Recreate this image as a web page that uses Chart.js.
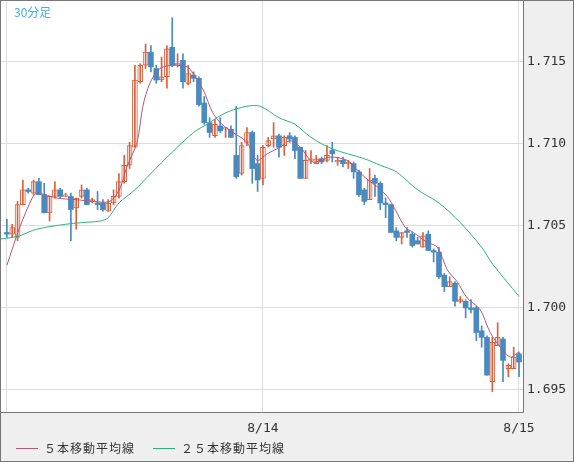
<!DOCTYPE html>
<html><head><meta charset="utf-8">
<script src="https://cdn.jsdelivr.net/npm/chart.js@4/dist/chart.umd.min.js"></script>
<style>
html,body{margin:0;padding:0;background:#efefef;}
#wrap{position:relative;width:574px;height:462px;overflow:hidden;}
#title{position:absolute;left:14px;top:3px;font:12px "Noto Sans CJK JP";color:#3fb0e8;}
.lg{position:absolute;top:439px;font:12px "Noto Sans CJK JP";color:#333;letter-spacing:1px;}
.ln{position:absolute;top:448px;height:1px;width:22px;}
</style></head><body>
<div id="wrap">
<canvas id="c" width="574" height="462"></canvas>
<div id="title">30分足</div>
<div class="ln" style="left:16px;background:#b5577f"></div><div class="lg" style="left:44px">５本移動平均線</div>
<div class="ln" style="left:153px;background:#2db37a"></div><div class="lg" style="left:181px">２５本移動平均線</div>
</div>
<script>
const opens=[1.7046,1.7045,1.7043,1.7063,1.7072,1.7070,1.7077,1.7069,1.7058,1.7068,1.7072,1.7068,1.7068,1.7061,1.7068,1.7072,1.7065,1.7064,1.7064,1.7059,1.7064,1.7068,1.7077,1.7087,1.7098,1.7138,1.7148,1.7156,1.7146,1.7139,1.7141,1.7159,1.7148,1.7151,1.7137,1.7142,1.7140,1.7125,1.7113,1.7105,1.7111,1.7109,1.7109,1.7093,1.7082,1.7101,1.7107,1.7088,1.7079,1.7099,1.7103,1.7105,1.7099,1.7105,1.7104,1.7098,1.7079,1.7090,1.7088,1.7091,1.7090,1.7096,1.7089,1.7090,1.7088,1.7088,1.7083,1.7072,1.7066,1.7079,1.7076,1.7064,1.7063,1.7047,1.7043,1.7047,1.7045,1.7041,1.7037,1.7045,1.7035,1.7034,1.7020,1.7013,1.7015,1.7004,1.7004,1.7000,1.7000,1.6986,1.6982,1.6955,1.6977,1.6981,1.6963,1.6963,1.6972];
const highs=[1.7054,1.7051,1.7065,1.7078,1.7073,1.7078,1.7079,1.7076,1.7068,1.7077,1.7073,1.7070,1.7070,1.7067,1.7075,1.7073,1.7067,1.7071,1.7066,1.7066,1.7072,1.7082,1.7093,1.7101,1.7148,1.7149,1.7161,1.7160,1.7148,1.7153,1.7160,1.7177,1.7155,1.7155,1.7148,1.7144,1.7141,1.7129,1.7116,1.7115,1.7116,1.7110,1.7111,1.7123,1.7101,1.7110,1.7108,1.7093,1.7099,1.7104,1.7113,1.7106,1.7105,1.7107,1.7105,1.7098,1.7096,1.7096,1.7093,1.7092,1.7099,1.7101,1.7092,1.7092,1.7090,1.7089,1.7084,1.7073,1.7085,1.7081,1.7077,1.7067,1.7063,1.7049,1.7046,1.7049,1.7046,1.7043,1.7046,1.7047,1.7036,1.7037,1.7021,1.7019,1.7016,1.7007,1.7005,1.7005,1.7001,1.6989,1.6983,1.6982,1.6991,1.6982,1.6966,1.6976,1.6973];
const lows=[1.7043,1.7043,1.7041,1.7063,1.7070,1.7069,1.7069,1.7058,1.7053,1.7067,1.7067,1.7068,1.7041,1.7048,1.7067,1.7063,1.7064,1.7060,1.7059,1.7059,1.7063,1.7067,1.7076,1.7085,1.7098,1.7137,1.7146,1.7144,1.7137,1.7138,1.7134,1.7147,1.7147,1.7134,1.7136,1.7138,1.7123,1.7112,1.7104,1.7104,1.7107,1.7104,1.7104,1.7079,1.7081,1.7099,1.7076,1.7071,1.7075,1.7098,1.7098,1.7092,1.7093,1.7101,1.7091,1.7079,1.7079,1.7088,1.7088,1.7088,1.7089,1.7089,1.7087,1.7086,1.7085,1.7079,1.7068,1.7063,1.7066,1.7068,1.7060,1.7055,1.7046,1.7041,1.7039,1.7043,1.7037,1.7039,1.7037,1.7035,1.7028,1.7018,1.7010,1.7013,1.7001,1.7003,1.6994,1.6997,1.6980,1.6976,1.6959,1.6949,1.6977,1.6955,1.6958,1.6963,1.6958];
const closes=[1.7045,1.7049,1.7063,1.7072,1.7071,1.7077,1.7069,1.7058,1.7068,1.7072,1.7068,1.7069,1.7060,1.7067,1.7072,1.7063,1.7066,1.7063,1.7060,1.7064,1.7068,1.7077,1.7087,1.7099,1.7139,1.7148,1.7156,1.7147,1.7139,1.7141,1.7158,1.7148,1.7149,1.7138,1.7143,1.7140,1.7124,1.7113,1.7107,1.7112,1.7108,1.7110,1.7104,1.7080,1.7099,1.7107,1.7085,1.7078,1.7098,1.7102,1.7105,1.7098,1.7104,1.7103,1.7096,1.7079,1.7090,1.7091,1.7091,1.7089,1.7093,1.7094,1.7090,1.7088,1.7089,1.7083,1.7069,1.7065,1.7078,1.7076,1.7064,1.7063,1.7046,1.7043,1.7046,1.7046,1.7038,1.7039,1.7044,1.7035,1.7034,1.7019,1.7013,1.7016,1.7004,1.7005,1.7000,1.6999,1.6985,1.6982,1.6959,1.6979,1.6982,1.6968,1.6965,1.6970,1.6967];
const ma5X=[0,2.4,4.9,5.8,9.4,13.1,16.1,19.3,21.2,22.5,24.4,25.5,26.8,28.7,31.1,33.8,34.9,36.8,38.6,40.3,42.4,45,46.9,48.8,51.2,53.1,55,57.4,60.6,63.8,65.7,67.7,69.4,71.3,72.8,74.7,76.2,78.8,80.7,82.6,84.4,86.3,88.7,90.6,92.5,94.4,95.9];
const ma5Y=[1.7026,1.7049,1.7068,1.7070,1.7067,1.7066,1.7065,1.7065,1.7073,1.7086,1.7101,1.7123,1.7137,1.7146,1.7148,1.7147,1.7143,1.7133,1.7119,1.7112,1.7107,1.7101,1.7090,1.7094,1.7098,1.7102,1.7098,1.7089,1.7092,1.7090,1.7084,1.7078,1.7074,1.7068,1.7060,1.7049,1.7046,1.7040,1.7037,1.7023,1.7016,1.7006,1.6999,1.6985,1.6976,1.6970,1.6973];
const ma25X=[-1.2,1,2.4,5.6,11,14,17.5,19,21,24,27,31,35,37.5,41,45,47.5,51,54,57,61,67,70,73,77,81,85,89,91,96];
const ma25Y=[1.7042,1.7043,1.7044,1.7048,1.7051,1.7052,1.7053,1.7055,1.7064,1.7072,1.7082,1.7095,1.7107,1.7112,1.7119,1.7123,1.7123,1.7116,1.7112,1.7104,1.7097,1.7091,1.7087,1.7083,1.7072,1.7064,1.7052,1.7037,1.7027,1.7007];
const xTickPos=[0,48,96];
const xLabels=['','8/14','8/15'];
const yTicks=[1.695,1.700,1.705,1.710,1.715];

const UP='#d9603b', DN='#4a8abf';
const idx=opens.map((_,i)=>i);
const wick=idx.map(i=>({x:i,y:[lows[i],highs[i]]}));
const body=idx.map(i=>({x:i,y:[Math.min(opens[i],closes[i]),Math.max(opens[i],closes[i])]}));
const up=idx.map(i=>closes[i]>=opens[i]);
const bg={id:'bg',beforeDraw(c){const a=c.chartArea,x=c.ctx;x.save();x.fillStyle='#fff';x.fillRect(a.left,a.top,a.right-a.left,a.bottom-a.top);x.restore();},
 afterDraw(c){const a=c.chartArea,x=c.ctx;x.save();x.strokeStyle='#777';x.lineWidth=1;x.strokeRect(0.5,0.5,573,461);x.beginPath();x.moveTo(Math.round(a.right)+0.5,0);x.lineTo(Math.round(a.right)+0.5,Math.round(a.bottom)+0.5);x.lineTo(0,Math.round(a.bottom)+0.5);x.stroke();x.restore();}};
const xLab=v=>{const k=xTickPos.indexOf(v);return k<0?'':xLabels[k];};
new Chart(document.getElementById('c'),{
 type:'bar',
 data:{datasets:[
  {type:'line',data:ma25X.map((v,i)=>({x:v,y:ma25Y[i]})),borderColor:'#2db37a',borderWidth:1,pointRadius:0,tension:0.3},
  {type:'line',data:ma5X.map((v,i)=>({x:v,y:ma5Y[i]})),borderColor:'#b5577f',borderWidth:1,pointRadius:0,tension:0.3},
  {data:wick,grouped:false,barThickness:1,backgroundColor:up.map(u=>u?UP:DN)},
  {data:body,grouped:false,barThickness:5,minBarLength:1,backgroundColor:up.map(u=>u?'#fff':DN),borderColor:up.map(u=>u?UP:DN),borderWidth:up.map(u=>u?1:0),borderSkipped:false}
 ]},
 options:{responsive:false,animation:false,devicePixelRatio:1,
  layout:{autoPadding:false,padding:{left:1,top:1,right:0,bottom:0}},
  plugins:{legend:{display:false},tooltip:{enabled:false}},
  scales:{
   x:{type:'linear',min:-1.1,max:96.75,offset:false,
      afterBuildTicks:s=>{s.ticks=xTickPos.map(v=>({value:v}));},
      afterFit:s=>{s.height=50;s.paddingLeft=0;s.paddingRight=0;},
      grid:{color:c=>(c.tick&&xTickPos.includes(c.tick.value))?'#dddddd':'rgba(0,0,0,0)',drawTicks:false,offset:false},border:{display:false},
      ticks:{padding:9,maxRotation:0,autoSkip:false,color:'#333',font:{family:'DejaVu Sans Mono',size:13},callback:v=>xLab(v)}},
   y:{position:'right',min:1.69365,max:1.71872,
      afterBuildTicks:s=>{s.ticks=yTicks.map(v=>({value:v}));},
      afterFit:s=>{s.width=51;s.paddingTop=0;s.paddingBottom=0;},
      grid:{color:'#dddddd',drawTicks:false},border:{display:false},
      ticks:{padding:4,color:'#333',font:{family:'DejaVu Sans Mono',size:13},callback:v=>v.toFixed(3)}}
  }},
 plugins:[bg]
});
</script></body></html>
